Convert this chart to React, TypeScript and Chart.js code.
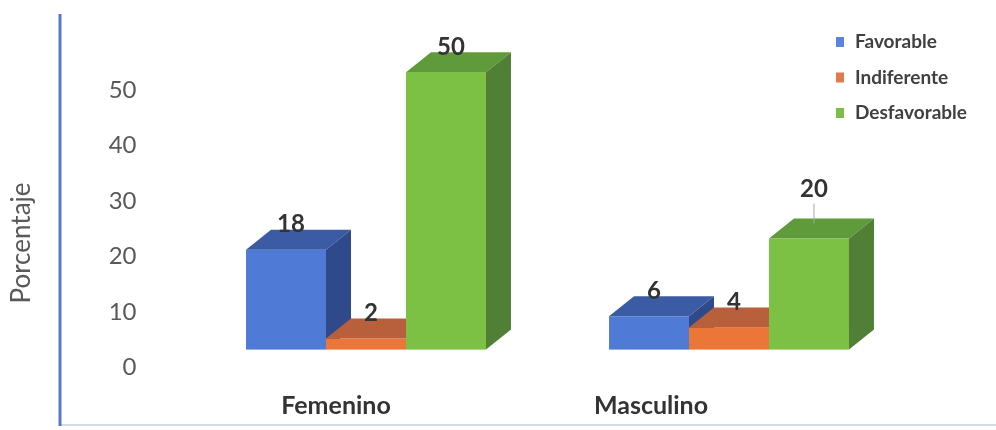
import { useEffect, useRef } from "react";
import { Chart, registerables } from "chart.js";

Chart.register(...registerables);

// Data
const categories = ["Femenino", "Masculino"];
const seriesNames = ["Favorable", "Indiferente", "Desfavorable"];
const favorable = [18, 6];
const indiferente = [2, 4];
const desfavorable = [50, 20];
const yTickValues = [0, 10, 20, 30, 40, 50];
const axisTitle = "Porcentaje";

// Styling for the pseudo-3D columns
const FONT = "Lato, 'Open Sans', sans-serif";
const faceColors = [
  { front: "#4F7BD7", top: "#3B5BA5", side: "#30498A", key: "#5B84E0" },
  { front: "#EB7637", top: "#B8603C", side: "#9C4E2E", key: "#E07A4A" },
  { front: "#7CC144", top: "#5F9B3A", side: "#527F36", key: "#7DBE4A" },
];
const DEPTH_X = 25;
const DEPTH_Y = -20;
const FLOOR_LIFT = 18; // front faces sit slightly above the back-wall zero line
const categoryLabelShift = [-30, -78]; // perspective shift of the category captions
const labelLift: Record<string, number> = { "1-2": 24 }; // dataset-category pairs with raised labels

const boxesPlugin = {
  id: "boxes3d",
  beforeDraw(chart: Chart) {
    const { ctx, width } = chart;
    ctx.save();
    ctx.fillStyle = "#ffffff";
    ctx.fillRect(0, 0, chart.width, chart.height);
    // frame: blue left rule and a faint bottom rule
    ctx.strokeStyle = "#D3DAE6";
    ctx.lineWidth = 2;
    ctx.beginPath();
    ctx.moveTo(60, 425);
    ctx.lineTo(width, 425);
    ctx.stroke();
    ctx.strokeStyle = "#5A78C8";
    ctx.lineWidth = 3;
    ctx.beginPath();
    ctx.moveTo(60, 14);
    ctx.lineTo(60, 426);
    ctx.stroke();
    ctx.restore();
  },
  beforeDatasetDraw() {
    return false;
  },
  afterDatasetsDraw(chart: Chart) {
    const ctx = chart.ctx;
    const nCat = chart.data.labels!.length;
    const nSet = chart.data.datasets.length;
    ctx.save();
    const labels: { x: number; y: number; text: string; leader: number }[] = [];
    for (let i = 0; i < nCat; i++) {
      for (let d = 0; d < nSet; d++) {
        const meta = chart.getDatasetMeta(d);
        const el: any = meta.data[i];
        const { x, y, base, width } = el.getProps(["x", "y", "base", "width"], true);
        const c = faceColors[d];
        const l = x - width / 2;
        const r = x + width / 2;
        const t = y - FLOOR_LIFT;
        const b = base - FLOOR_LIFT;
        // front face
        ctx.fillStyle = c.front;
        ctx.fillRect(l, t, width, b - t);
        // top face
        ctx.fillStyle = c.top;
        ctx.beginPath();
        ctx.moveTo(l, t);
        ctx.lineTo(l + DEPTH_X, t + DEPTH_Y);
        ctx.lineTo(r + DEPTH_X, t + DEPTH_Y);
        ctx.lineTo(r, t);
        ctx.closePath();
        ctx.fill();
        // side face
        ctx.fillStyle = c.side;
        ctx.beginPath();
        ctx.moveTo(r, t);
        ctx.lineTo(r + DEPTH_X, t + DEPTH_Y);
        ctx.lineTo(r + DEPTH_X, b + DEPTH_Y);
        ctx.lineTo(r, b);
        ctx.closePath();
        ctx.fill();
        const value = chart.data.datasets[d].data[i] as number;
        const lift = labelLift[`${i}-${d}`] || 0;
        labels.push({ x: x + 5, y: t + DEPTH_Y - 5 - lift, text: String(value), leader: lift });
      }
    }
    // value labels
    ctx.font = `bold 24px ${FONT}`;
    ctx.textAlign = "center";
    ctx.textBaseline = "middle";
    for (const lb of labels) {
      if (lb.leader > 0) {
        ctx.strokeStyle = "#A6A6A6";
        ctx.lineWidth = 1;
        ctx.beginPath();
        ctx.moveTo(lb.x, lb.y + 14);
        ctx.lineTo(lb.x, lb.y + lb.leader + 10);
        ctx.stroke();
      }
      ctx.fillStyle = "#333333";
      ctx.fillText(lb.text, lb.x, lb.y);
    }
    ctx.restore();
  },
  afterDraw(chart: Chart) {
    const ctx = chart.ctx;
    const xs: any = chart.scales.x;
    ctx.save();
    // category captions
    ctx.font = `bold 25px ${FONT}`;
    ctx.fillStyle = "#333333";
    ctx.textAlign = "center";
    ctx.textBaseline = "middle";
    (chart.data.labels as string[]).forEach((lab, i) => {
      ctx.fillText(lab, xs.getPixelForValue(i) + categoryLabelShift[i], 406);
    });
    // axis title
    ctx.font = `26px ${FONT}`;
    ctx.fillStyle = "#595959";
    ctx.translate(22, 243);
    ctx.rotate(-Math.PI / 2);
    ctx.fillText(axisTitle, 0, 0);
    ctx.restore();
    // legend
    ctx.save();
    ctx.font = `bold 19px ${FONT}`;
    ctx.textAlign = "left";
    ctx.textBaseline = "middle";
    chart.data.datasets.forEach((ds, d) => {
      const cy = 42 + d * 35.5;
      ctx.fillStyle = faceColors[d].key;
      ctx.fillRect(836, cy - 5, 8, 10);
      ctx.fillStyle = "#404040";
      ctx.fillText(ds.label as string, 855, cy);
    });
    ctx.restore();
  },
};

export default function App() {
  const canvasRef = useRef<HTMLCanvasElement | null>(null);

  useEffect(() => {
    const canvas = canvasRef.current;
    if (!canvas) return;
    const seriesValues = [favorable, indiferente, desfavorable];
    const chart = new Chart(canvas, {
      type: "bar",
      data: {
        labels: categories,
        datasets: seriesNames.map((name, d) => ({
          label: name,
          data: seriesValues[d],
          backgroundColor: faceColors[d].front,
          categoryPercentage: 0.661,
          barPercentage: 1,
        })),
      },
      options: {
        responsive: false,
        animation: false,
        devicePixelRatio: 1,
        layout: { padding: { top: 62, bottom: 60, left: 0, right: 85.5 } },
        plugins: {
          legend: { display: false },
          tooltip: { enabled: false },
        },
        scales: {
          x: { display: false },
          y: {
            min: 0,
            max: 55,
            afterFit: (s: any) => {
              s.width = 184.5;
            },
            afterBuildTicks: (s: any) => {
              s.ticks = yTickValues.map((v) => ({ value: v }));
            },
            grid: { display: false, drawTicks: false },
            border: { display: false },
            ticks: {
              padding: 48,
              color: "#595959",
              font: { family: FONT, size: 24 },
            },
          },
        },
      },
      plugins: [boxesPlugin],
    });
    return () => chart.destroy();
  }, []);

  return (
    <div style={{ position: "fixed", left: 0, top: 0, width: 996, height: 430, background: "#fff" }}>
      <canvas ref={canvasRef} width={996} height={430} />
    </div>
  );
}
